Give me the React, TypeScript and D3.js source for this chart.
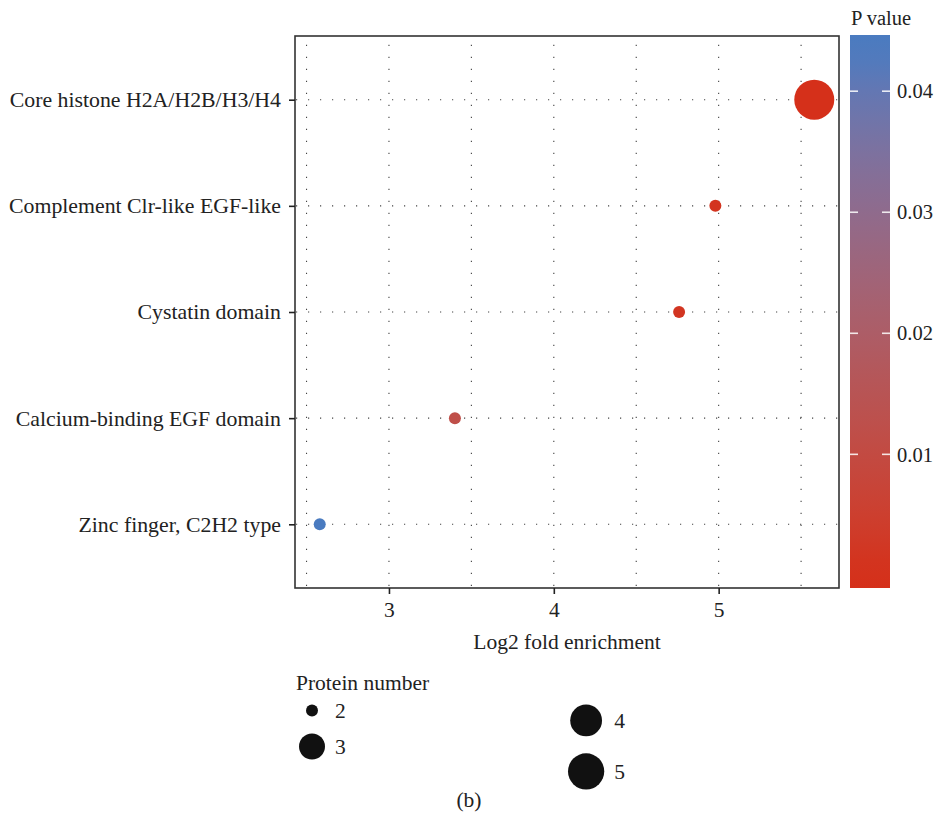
import * as d3 from 'd3';
import { useRef, useEffect } from 'react';

const categories = [
    'Core histone H2A/H2B/H3/H4',
    'Complement Clr-like EGF-like',
    'Cystatin domain',
    'Calcium-binding EGF domain',
    'Zinc finger, C2H2 type',
];
const foldEnrichment = [5.58, 4.98, 4.76, 3.40, 2.58];
const pValues = [0.0001, 0.0012, 0.0016, 0.012, 0.0435];
const proteinNumbers = [6, 2, 2, 2, 2];

const xTicks = [3, 4, 5];
const xMinorTicks = [2.5, 3.5, 4.5, 5.5];
const pTicks = [0.01, 0.02, 0.03, 0.04];
const sizeBreaks = [2, 3, 4, 5];

const FONT = '"Liberation Serif", "DejaVu Serif", serif';

function DotPlot({ width = 939, height = 825 }) {
    const svgRef = useRef<SVGSVGElement>(null);

    useEffect(() => {
        const svg = d3.select(svgRef.current)
            .attr('width', width)
            .attr('height', height);
        svg.selectAll('*').remove();

        const panel = { left: 295, right: 839, top: 36, bottom: 588 };
        const gridColor = '#444';

        const data = categories.map((c, i) => ({
            term: c,
            fold: foldEnrichment[i],
            p: pValues[i],
            n: proteinNumbers[i],
        }));

        // Scales
        const [xMin, xMax] = d3.extent(foldEnrichment) as [number, number];
        const xPad = (xMax - xMin) * 0.05;
        const xScale = d3.scaleLinear()
            .domain([xMin - xPad, xMax + xPad])
            .range([panel.left, panel.right]);

        const yScale = d3.scalePoint<string>()
            .domain(categories)
            .range([panel.top, panel.bottom])
            .padding(0.6);

        const [pMin, pMax] = d3.extent(pValues) as [number, number];
        const colorScale = d3.scaleLinear<string>()
            .domain([pMin, pMax])
            .range(['#d5301a', '#4a7bc0'])
            .interpolate(d3.interpolateLab)
            .clamp(true);

        const [nMin, nMax] = d3.extent(proteinNumbers) as [number, number];
        const radiusScale = d3.scaleLinear().domain([0, 1]).range([6, 20]);
        const radius = (v: number) => radiusScale(Math.sqrt((v - nMin) / (nMax - nMin)));

        // Grid (dotted)
        const grid = svg.append('g')
            .attr('stroke', gridColor)
            .attr('stroke-width', 1.1)
            .attr('stroke-dasharray', '1.2,10.8');

        grid.selectAll('line.v')
            .data([...xMinorTicks, ...xTicks])
            .enter()
            .append('line')
            .attr('x1', d => xScale(d))
            .attr('x2', d => xScale(d))
            .attr('y1', panel.bottom - 2)
            .attr('y2', panel.top);

        grid.selectAll('line.h')
            .data(categories)
            .enter()
            .append('line')
            .attr('x1', panel.left + 1)
            .attr('x2', panel.right)
            .attr('y1', d => yScale(d)!)
            .attr('y2', d => yScale(d)!);

        // Points
        svg.append('g')
            .selectAll('circle')
            .data(data)
            .enter()
            .append('circle')
            .attr('cx', d => xScale(d.fold))
            .attr('cy', d => yScale(d.term)!)
            .attr('r', d => radius(d.n))
            .attr('fill', d => colorScale(d.p));

        // Panel border
        svg.append('rect')
            .attr('x', panel.left)
            .attr('y', panel.top)
            .attr('width', panel.right - panel.left)
            .attr('height', panel.bottom - panel.top)
            .attr('fill', 'none')
            .attr('stroke', '#333')
            .attr('stroke-width', 1.6);

        // Axes
        const xAxis = svg.append('g')
            .attr('transform', `translate(0,${panel.bottom})`)
            .call(d3.axisBottom(xScale).tickValues(xTicks).tickFormat(d3.format('d'))
                .tickSize(6).tickSizeOuter(0).tickPadding(8));
        xAxis.select('.domain').remove();
        xAxis.selectAll('line').attr('stroke', '#222').attr('stroke-width', 1.6);
        xAxis.selectAll('text')
            .attr('font-family', FONT)
            .attr('font-size', 21.5)
            .attr('fill', '#222');

        const yAxis = svg.append('g')
            .attr('transform', `translate(${panel.left},0)`)
            .call(d3.axisLeft(yScale).tickSize(6).tickSizeOuter(0).tickPadding(8));
        yAxis.select('.domain').remove();
        yAxis.selectAll('line').attr('stroke', '#222').attr('stroke-width', 1.6);
        yAxis.selectAll('text')
            .attr('font-family', FONT)
            .attr('font-size', 21.8)
            .attr('fill', '#222');

        svg.append('text')
            .attr('x', (panel.left + panel.right) / 2)
            .attr('y', 649)
            .attr('text-anchor', 'middle')
            .attr('font-family', FONT)
            .attr('font-size', 21.5)
            .attr('fill', '#222')
            .text('Log2 fold enrichment');

        // Colour bar
        const bar = { x: 850, w: 40, top: 35, bottom: 588 };
        const binPad = (pMax - pMin) * 0.025 / 0.95;
        const barScale = d3.scaleLinear()
            .domain([pMin - binPad, pMax + binPad])
            .range([bar.bottom, bar.top]);

        const defs = svg.append('defs');
        const grad = defs.append('linearGradient')
            .attr('id', 'pgrad')
            .attr('x1', 0).attr('y1', 1).attr('x2', 0).attr('y2', 0);
        d3.range(0, 1.0001, 0.05).forEach(t => {
            const v = barScale.domain()[0] + t * (barScale.domain()[1] - barScale.domain()[0]);
            grad.append('stop')
                .attr('offset', `${t * 100}%`)
                .attr('stop-color', colorScale(v));
        });

        svg.append('rect')
            .attr('x', bar.x)
            .attr('y', bar.top)
            .attr('width', bar.w)
            .attr('height', bar.bottom - bar.top)
            .attr('fill', 'url(#pgrad)');

        const barTicks = svg.append('g');
        pTicks.forEach(t => {
            const y = barScale(t);
            [[bar.x, bar.x + 8], [bar.x + bar.w - 8, bar.x + bar.w]].forEach(([a, b]) => {
                barTicks.append('line')
                    .attr('x1', a).attr('x2', b)
                    .attr('y1', y).attr('y2', y)
                    .attr('stroke', 'white')
                    .attr('stroke-opacity', 0.85)
                    .attr('stroke-width', 1.6);
            });
            barTicks.append('text')
                .attr('x', bar.x + bar.w + 7)
                .attr('y', y)
                .attr('dy', '0.35em')
                .attr('font-family', FONT)
                .attr('font-size', 20.5)
                .attr('fill', '#222')
                .text(d3.format('.2f')(t));
        });

        svg.append('text')
            .attr('x', bar.x + 1)
            .attr('y', 25)
            .attr('font-family', FONT)
            .attr('font-size', 20.5)
            .attr('fill', '#222')
            .text('P value');

        // Size legend
        svg.append('text')
            .attr('x', 296)
            .attr('y', 690)
            .attr('font-family', FONT)
            .attr('font-size', 21.5)
            .attr('fill', '#222')
            .text('Protein number');

        const legendTop = 696;
        const columns = [
            { x: 299, items: sizeBreaks.slice(0, 2) },
            { x: 568, items: sizeBreaks.slice(2, 4) },
        ];
        const legend = svg.append('g');
        columns.forEach(col => {
            const keyW = d3.max(col.items, v => 2 * radius(v))!;
            let y = legendTop;
            col.items.forEach(v => {
                const r = radius(v);
                const h = 2 * r + 17;
                const cy = y + h / 2;
                legend.append('circle')
                    .attr('cx', col.x + keyW / 2)
                    .attr('cy', cy)
                    .attr('r', r)
                    .attr('fill', '#111');
                legend.append('text')
                    .attr('x', col.x + keyW + 10)
                    .attr('y', cy)
                    .attr('dy', '0.35em')
                    .attr('font-family', FONT)
                    .attr('font-size', 21.5)
                    .attr('fill', '#222')
                    .text(v);
                y += h;
            });
        });

        svg.append('text')
            .attr('x', 469)
            .attr('y', 807)
            .attr('text-anchor', 'middle')
            .attr('font-family', FONT)
            .attr('font-size', 21.5)
            .attr('fill', '#222')
            .text('(b)');
    }, [width, height]);

    return <svg ref={svgRef} style={{ position: 'absolute', left: 0, top: 0, background: 'white' }}></svg>;
}

export default function App() {
    return <DotPlot />;
}
